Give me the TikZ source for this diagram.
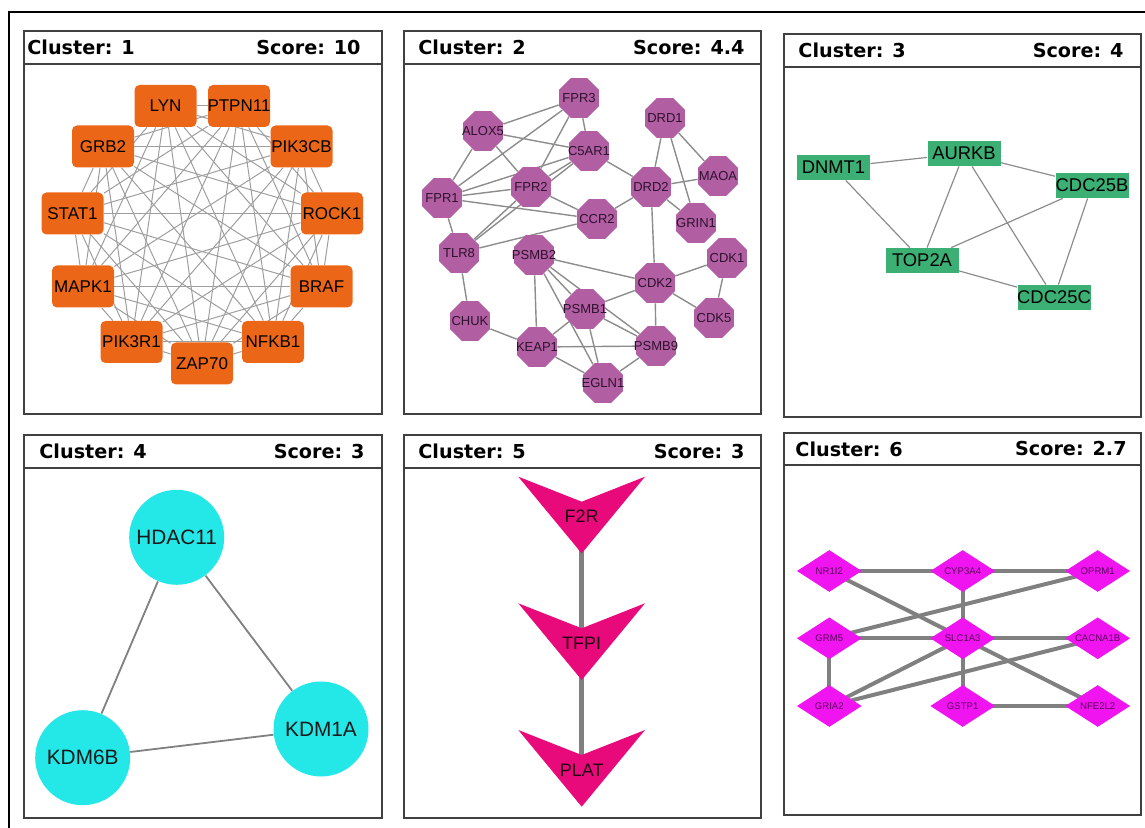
\documentclass[tikz,border=0pt]{standalone}
\usepackage{fontspec}
\setmainfont{Liberation Sans}
\newfontfamily\headfont{DejaVu Sans}
\usepackage{xcolor}
\usetikzlibrary{shapes.geometric,backgrounds}

\definecolor{orangeA}{RGB}{236,102,24}
\definecolor{purpleB}{RGB}{178,94,162}
\definecolor{purpleT}{RGB}{45,18,45}
\definecolor{greenC}{RGB}{60,176,116}
\definecolor{cyanD}{RGB}{36,232,232}
\definecolor{pinkE}{RGB}{232,10,122}
\definecolor{magentaF}{RGB}{240,20,240}
\definecolor{magentaT}{RGB}{90,0,90}

\begin{document}
\begin{tikzpicture}[x=0.5pt, y=-0.5pt,
        panel/.style={draw=black!75, line width=1pt},
        head/.style={font=\headfont\bfseries\fontsize{9.6}{11}\selectfont, inner sep=0pt},
        narrow/.style={execute at begin node={\hbox to 0pt\bgroup\hss},
                       execute at end node={\hss\egroup}},
        gene/.style={narrow, inner sep=0pt, text=black},
        rbox/.style={gene, rectangle, rounded corners=2.5pt, fill=orangeA,
                     minimum width=31pt, minimum height=21pt, font=\fontsize{8.5}{9}\selectfont},
        oct/.style={gene, regular polygon, regular polygon sides=8, fill=purpleB,
                    minimum size=21.6pt, text=purpleT, font=\fontsize{6.5}{7}\selectfont},
        gbox/.style={gene, rectangle, fill=greenC, minimum width=36.5pt,
                     minimum height=12.5pt, font=\fontsize{9.2}{10}\selectfont},
        ball/.style={gene, circle, fill=cyanD, minimum size=47.5pt,
                     text=black!90, font=\fontsize{10.4}{12}\selectfont},
        vlabel/.style={gene, text=black!85!pinkE, font=\fontsize{9}{10}\selectfont},
        dia/.style={gene, diamond, aspect=1.55, fill=magentaF, minimum width=32.5pt,
                    minimum height=21pt, text=magentaT, font=\fontsize{4.8}{5.5}\selectfont},
        edgeA/.style={draw=black!38, line width=0.5pt},
        edgeB/.style={draw=black!45, line width=0.7pt},
        edgeC/.style={draw=black!45, line width=0.6pt},
        edgeD/.style={draw=black!50, line width=0.9pt},
        edgeE/.style={draw=black!50, line width=2.6pt},
        edgeF/.style={draw=black!50, line width=2pt},
    ]
    \useasboundingbox (0,0) rectangle (1145,828);
    \draw[line width=1pt] (1145,12) -- (9,12) -- (9,828);

    \foreach \n/\xa/\ya/\xb/\yb/\yd/\xl/\xr/\sc in {
            1/24/31/381.5/414/64/27/361/10, 2/404/31/761/414/64/418/745/4.4,
            3/784/34/1141/417/67/798/1124/4, 4/24/435/382/818/468/39/365/3,
            5/404/435/761/818/468/418/745/3, 6/784/433/1141/815/465/795/1127/2.7} {
        \draw[panel] (\xa,\ya) rectangle (\xb,\yb);
        \draw[panel] (\xa,\yd) -- (\xb,\yd);
        \node[head, anchor=west] (clu\n) at (\xl,{(\ya+\yd)/2}) {Cluster: \n};
        \node[head, anchor=east] (sco\n) at (\xr,{(\ya+\yd)/2}) {Score: \sc};
    }

    % cluster 1
    \node[rbox] (lyn)    at (165.5,106)   {LYN};
    \node[rbox] (ptpn11) at (239,106)     {PTPN11};
    \node[rbox] (grb2)   at (103,146.5)   {GRB2};
    \node[rbox] (pik3cb) at (301.5,146.5) {PIK3CB};
    \node[rbox] (stat1)  at (72.5,213.5)  {STAT1};
    \node[rbox] (rock1)  at (332,213.5)   {ROCK1};
    \node[rbox] (mapk1)  at (83,286.5)    {MAPK1};
    \node[rbox] (braf)   at (321.5,286.5) {BRAF};
    \node[rbox] (pik3r1) at (131.5,342)   {PIK3R1};
    \node[rbox] (nfkb1)  at (273,342)     {NFKB1};
    \node[rbox] (zap70)  at (202,363.5)   {ZAP70};

    % cluster 2
    \node[oct] (fpr3)  at (579,98)  {FPR3};
    \node[oct] (drd1)  at (665,118) {DRD1};
    \node[oct] (alox5) at (483,131) {ALOX5};
    \node[oct] (c5ar1) at (589,151) {C5AR1};
    \node[oct] (maoa)  at (718,176) {MAOA};
    \node[oct] (fpr2)  at (531,187) {FPR2};
    \node[oct] (drd2)  at (651,187) {DRD2};
    \node[oct] (fpr1)  at (442,198) {FPR1};
    \node[oct] (ccr2)  at (597,219) {CCR2};
    \node[oct] (grin1) at (696,223) {GRIN1};
    \node[oct] (tlr8)  at (459,253) {TLR8};
    \node[oct] (psmb2) at (534,255) {PSMB2};
    \node[oct] (cdk1)  at (727,258) {CDK1};
    \node[oct] (cdk2)  at (655,283) {CDK2};
    \node[oct] (psmb1) at (585,309) {PSMB1};
    \node[oct] (cdk5)  at (714,318) {CDK5};
    \node[oct] (chuk)  at (470,321) {CHUK};
    \node[oct] (keap1) at (537,347) {KEAP1};
    \node[oct] (psmb9) at (656,346) {PSMB9};
    \node[oct] (egln1) at (603,383) {EGLN1};

    % cluster 3
    \node[gbox] (dnmt1)  at (833.5,167.5) {DNMT1};
    \node[gbox] (aurkb)  at (964,153.5)   {AURKB};
    \node[gbox] (cdc25b) at (1092,185.5)  {CDC25B};
    \node[gbox] (top2a)  at (922,260.5)   {TOP2A};
    \node[gbox] (cdc25c) at (1054,297.5)  {CDC25C};

    % cluster 4
    \node[ball] (hdac11) at (176.7,537.3) {HDAC11};
    \node[ball] (kdm6b)  at (82.7,757.7)  {KDM6B};
    \node[ball] (kdm1a)  at (321,729)     {KDM1A};

    % cluster 5
    \foreach \y in {476.7,603.3,730}
        \fill[pinkE] (518.3,\y) -- (581.7,\y+25) -- (645,\y) -- (581.7,\y+76.7) -- cycle;
    \node[vlabel] (f2r)  at (581.7,516.7) {F2R};
    \node[vlabel] (tfpi) at (581.7,643.3) {TFPI};
    \node[vlabel] (plat) at (581.7,770)   {PLAT};

    % cluster 6
    \node[dia] (nr1i2)   at (829.3,571)    {NR1I2};
    \node[dia] (cyp3a4)  at (962.7,571)    {CYP3A4};
    \node[dia] (oprm1)   at (1097.7,571)   {OPRM1};
    \node[dia] (grm5)    at (829.3,638.3)  {GRM5};
    \node[dia] (slc1a3)  at (962.7,638.3)  {SLC1A3};
    \node[dia] (cacna1b) at (1097.7,638.3) {CACNA1B};
    \node[dia] (gria2)   at (829.3,706)    {GRIA2};
    \node[dia] (gstp1)   at (962.7,706)    {GSTP1};
    \node[dia] (nfe2l2)  at (1097.7,706)   {NFE2L2};

    \begin{pgfonlayer}{background}
        \foreach [count=\i] \a in {lyn,ptpn11,grb2,pik3cb,stat1,rock1,mapk1,braf,pik3r1,nfkb1,zap70}
            \foreach [count=\j] \b in {lyn,ptpn11,grb2,pik3cb,stat1,rock1,mapk1,braf,pik3r1,nfkb1,zap70}
                {\ifnum\j>\i \draw[edgeA] (\a) -- (\b); \fi}

        \foreach \a/\b in {fpr3/alox5, fpr3/fpr1, fpr3/fpr2, fpr3/c5ar1, alox5/c5ar1,
                alox5/fpr1, alox5/fpr2, c5ar1/fpr1, c5ar1/fpr2, c5ar1/tlr8, fpr2/fpr1,
                fpr2/tlr8, fpr2/ccr2, fpr1/ccr2, fpr1/tlr8, tlr8/ccr2, c5ar1/drd2,
                ccr2/drd2, drd1/drd2, drd1/grin1, drd1/maoa, drd2/maoa, drd2/grin1,
                drd2/cdk2, cdk2/cdk1, cdk2/cdk5, cdk1/cdk5, cdk2/psmb9, cdk2/psmb1,
                cdk2/psmb2, tlr8/chuk, chuk/keap1, psmb2/keap1, psmb2/psmb1,
                psmb2/psmb9, psmb2/egln1, psmb1/keap1, psmb1/psmb9, psmb1/egln1,
                keap1/psmb9, keap1/egln1, egln1/psmb9}
            \draw[edgeB] (\a) -- (\b);

        \foreach \a/\b in {dnmt1/aurkb, dnmt1/top2a, aurkb/top2a, aurkb/cdc25b,
                aurkb/cdc25c, top2a/cdc25b, top2a/cdc25c, cdc25b/cdc25c}
            \draw[edgeC] (\a) -- (\b);

        \draw[edgeD] (hdac11) -- (kdm6b);
        \draw[edgeD] (hdac11) -- (kdm1a);
        \draw[edgeD] (kdm6b) -- (kdm1a);

        \draw[edgeE] (f2r.center) -- (tfpi.center);
        \draw[edgeE] (tfpi.center) -- (plat.center);

        \foreach \a/\b in {nr1i2/cyp3a4, cyp3a4/oprm1, nr1i2/nfe2l2, grm5/oprm1,
                grm5/slc1a3, slc1a3/cacna1b, grm5/gria2, gria2/slc1a3, gria2/cacna1b,
                cyp3a4/slc1a3, slc1a3/gstp1, gstp1/nfe2l2}
            \draw[edgeF] (\a.center) -- (\b.center);
    \end{pgfonlayer}
\end{tikzpicture}
\end{document}
